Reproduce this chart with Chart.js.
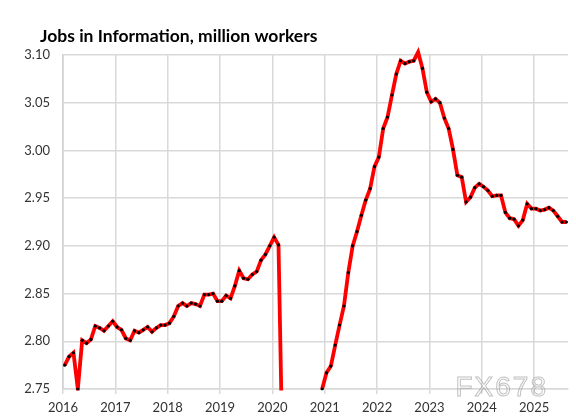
<!DOCTYPE html>
<html><head><meta charset="utf-8">
<script src="https://cdn.jsdelivr.net/npm/chart.js@4"></script>
<style>html,body{margin:0;padding:0;background:#fff}#wrap{width:576px;height:420px;position:relative}</style>
</head><body><div id="wrap"><canvas id="c" width="576" height="420"></canvas></div>
<script>
const chartTitle = 'Jobs in Information, million workers';
const watermark = 'FX678';
const startYear = 2016;
const tickYears = [2016, 2017, 2018, 2019, 2020, 2021, 2022, 2023, 2024, 2025];
const yMin = 2.75, yMax = 3.10, yStep = 0.05;

const jobs2016 = [2.775, 2.784, 2.788, 2.750, 2.801, 2.798, 2.802, 2.816, 2.814, 2.811, 2.816, 2.821];
const jobs2017 = [2.815, 2.812, 2.803, 2.801, 2.811, 2.809, 2.812, 2.815, 2.810, 2.814, 2.817, 2.817];
const jobs2018 = [2.819, 2.826, 2.837, 2.840, 2.837, 2.840, 2.839, 2.837, 2.849, 2.849, 2.850, 2.842];
const jobs2019 = [2.842, 2.848, 2.845, 2.858, 2.874, 2.866, 2.865, 2.870, 2.873, 2.885, 2.891, 2.900];
const jobs2020 = [2.909, 2.901, 2.658, null, null, null, null, null, null, null, null, 2.750];
const jobs2021 = [2.767, 2.774, 2.796, 2.817, 2.837, 2.872, 2.900, 2.915, 2.932, 2.948, 2.960, 2.983];
const jobs2022 = [2.993, 3.023, 3.035, 3.058, 3.080, 3.094, 3.091, 3.093, 3.094, 3.103, 3.086, 3.061];
const jobs2023 = [3.051, 3.054, 3.050, 3.034, 3.023, 3.001, 2.974, 2.972, 2.946, 2.951, 2.961, 2.965];
const jobs2024 = [2.962, 2.958, 2.952, 2.953, 2.953, 2.935, 2.929, 2.928, 2.921, 2.927, 2.944, 2.939];
const jobs2025 = [2.939, 2.937, 2.938, 2.940, 2.937, 2.931, 2.925, 2.925];

const jobs = [].concat(jobs2016, jobs2017, jobs2018, jobs2019, jobs2020,
                       jobs2021, jobs2022, jobs2023, jobs2024, jobs2025);
const monthOffset = 0.4;
const points = jobs.map((v, i) => ({ x: i + monthOffset, y: v }));

const FONT = 'Lato, "Open Sans", sans-serif';

const decor = {
  id: 'decor',
  afterDraw(chart) {
    const ctx = chart.ctx;
    ctx.save();
    ctx.fillStyle = '#000';
    ctx.font = 'bold 17.5px ' + FONT;
    ctx.textBaseline = 'alphabetic';
    ctx.textAlign = 'left';
    ctx.fillText(chartTitle, 40, 42);
    ctx.font = '28px "Liberation Sans", sans-serif';
    ctx.letterSpacing = '2px';
    ctx.strokeStyle = 'rgba(160,160,160,0.65)';
    ctx.lineWidth = 1;
    ctx.textAlign = 'right';
    ctx.strokeText(watermark, 548, 396);
    ctx.restore();
  }
};

new Chart(document.getElementById('c'), {
  type: 'line',
  data: {
    datasets: [{
      data: points,
      borderColor: '#ff0000',
      borderWidth: 3.8,
      pointRadius: 1.6,
      pointHoverRadius: 1.6,
      pointBackgroundColor: '#000',
      pointBorderWidth: 0,
      tension: 0,
      spanGaps: false,
      clip: { left: 4, top: 8, right: 8, bottom: 1.5 }
    }]
  },
  options: {
    responsive: false,
    animation: false,
    events: [],
    layout: { padding: { top: 55, right: 8, bottom: 0, left: 0 } },
    plugins: { legend: { display: false }, tooltip: { enabled: false }, title: { display: false } },
    scales: {
      x: {
        type: 'linear',
        min: 0,
        max: 115.76,
        afterBuildTicks: (s) => { s.ticks = tickYears.map(y => ({ value: (y - startYear) * 12 })); },
        afterFit: (s) => { s.height = 31; },
        ticks: {
          callback: (v) => String(startYear + Math.round(v / 12)),
          font: { family: FONT, size: 13 },
          color: '#333',
          padding: 6,
          maxRotation: 0,
          autoSkip: false
        },
        grid: { color: '#d9d9d9', lineWidth: 1.5, tickLength: 5, drawTicks: true },
        border: { color: '#d9d9d9', width: 1.5 }
      },
      y: {
        min: yMin,
        max: yMax,
        afterFit: (s) => { s.width = 63; },
        afterBuildTicks: (s) => {
          const t = [];
          for (let k = 0; k <= Math.round((yMax - yMin) / yStep); k++) t.push({ value: +(yMin + k * yStep).toFixed(2) });
          s.ticks = t;
        },
        ticks: {
          callback: (v) => Number(v).toFixed(2),
          font: { family: FONT, size: 13 },
          color: '#333',
          padding: 13
        },
        grid: { color: '#d9d9d9', lineWidth: 1.5, drawTicks: false },
        border: { color: '#d0d0d0', width: 1.5 }
      }
    }
  },
  plugins: [decor]
});
</script>
</body></html>
